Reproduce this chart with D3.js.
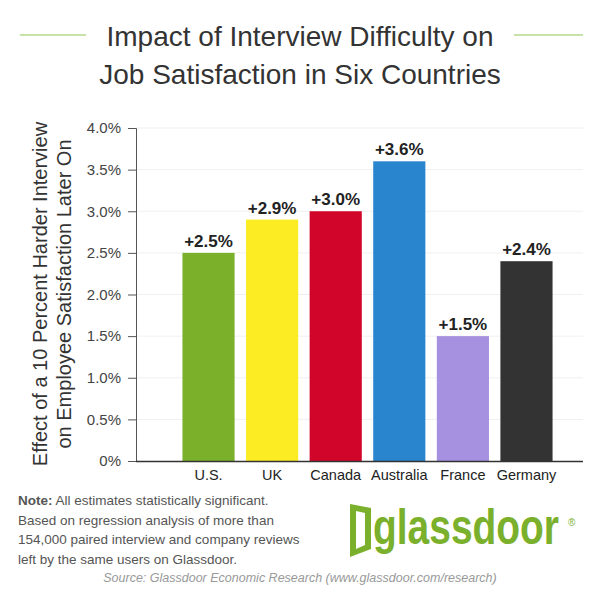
<!DOCTYPE html><html><head><meta charset="utf-8"><script src="https://cdn.jsdelivr.net/npm/d3@7"></script>
<style>body{margin:0;background:#fff}</style></head><body><svg id="c" width="600" height="598"></svg>
<script>
const countries=["U.S.","UK","Canada","Australia","France","Germany"];
const values=[2.5,2.9,3.0,3.6,1.5,2.4];
const colors=["#7bb02a","#fbec24","#d1042a","#2a85cf","#a690e0","#333333"];
const ticks=[0,0.5,1,1.5,2,2.5,3,3.5,4];
const svg=d3.select("#c");
const F="Helvetica, 'Liberation Sans', Arial, sans-serif";
svg.append("line").attr("x1",20).attr("x2",86).attr("y1",35).attr("y2",35).attr("stroke","#b5d98a").attr("stroke-width",1.5);
svg.append("line").attr("x1",514).attr("x2",583).attr("y1",35).attr("y2",35).attr("stroke","#b5d98a").attr("stroke-width",1.5);
const tt=svg.append("text").attr("text-anchor","middle").attr("font-family",F).attr("font-size",28).attr("font-weight",300).attr("fill","#333");
tt.append("tspan").attr("x",300).attr("y",46).text("Impact of Interview Difficulty on");
tt.append("tspan").attr("x",300).attr("y",84).text("Job Satisfaction in Six Countries");
const y=d3.scaleLinear().domain([0,4]).range([461,128]);
const x=d3.scaleBand().domain(countries).range([171,564]).padding(0.18);
const g=svg.append("g");
g.selectAll(".gl").data(ticks.slice(1)).join("line").attr("x1",136).attr("x2",583).attr("y1",d=>y(d)).attr("y2",d=>y(d)).attr("stroke","#f0f0f0");
const ya=svg.append("g").attr("transform","translate(136,0)").call(d3.axisLeft(y).tickValues(ticks).tickSize(8).tickFormat(d=>d===0?"0%":d.toFixed(1)+"%"));
ya.select(".domain").attr("stroke","#555");
ya.selectAll("line").attr("stroke","#555");
ya.selectAll("text").attr("font-family",F).attr("font-size",15).attr("fill","#444").attr("dx",-4);
svg.selectAll(".bar").data(values).join("rect").attr("x",(d,i)=>x(countries[i])).attr("width",x.bandwidth()).attr("y",d=>y(d)).attr("height",d=>y(0)-y(d)).attr("fill",(d,i)=>colors[i]);
svg.append("line").attr("x1",136).attr("x2",583).attr("y1",461.5).attr("y2",461.5).attr("stroke","#333").attr("stroke-width",1.5);
svg.selectAll(".vl").data(values).join("text").attr("x",(d,i)=>x(countries[i])+x.bandwidth()/2).attr("y",d=>y(d)-6).attr("text-anchor","middle").attr("font-family",F).attr("font-weight","bold").attr("font-size",17).attr("fill","#222").text(d=>"+"+d.toFixed(1)+"%");
svg.selectAll(".cl").data(countries).join("text").attr("x",d=>x(d)+x.bandwidth()/2).attr("y",480).attr("text-anchor","middle").attr("font-family",F).attr("font-size",14.5).attr("fill","#222").text(d=>d);
const yt=svg.append("text").attr("transform","translate(0,294) rotate(-90)").attr("text-anchor","middle").attr("font-family",F).attr("font-size",20).attr("fill","#333");
yt.append("tspan").attr("x",0).attr("y",47).text("Effect of a 10 Percent Harder Interview");
yt.append("tspan").attr("x",0).attr("y",71).text("on Employee Satisfaction Later On");
const note=["<tspan font-weight='bold'>Note:</tspan> All estimates statistically significant.","Based on regression analysis of more than","154,000 paired interview and company reviews","left by the same users on Glassdoor."];
svg.selectAll(".nt").data(note).join("text").attr("x",18).attr("y",(d,i)=>505+i*19.5).attr("font-family",F).attr("font-size",13.5).attr("fill","#555").html(d=>d);
const lg=svg.append("g").attr("fill","#7ab02c");
lg.append("path").attr("d","M350,504 L371,508 L371,549 L350,557 Z M356,511 L356,549 L365,545 L365,513 Z").attr("fill-rule","evenodd");
lg.append("text").attr("x",373).attr("y",544).attr("font-family",F).attr("font-weight","bold").attr("font-size",50).attr("textLength",186).attr("lengthAdjust","spacingAndGlyphs").text("glassdoor");
lg.append("text").attr("x",568).attr("y",526).attr("font-family",F).attr("font-size",10).text("®");
svg.append("text").attr("x",300).attr("y",582).attr("text-anchor","middle").attr("font-family",F).attr("font-style","italic").attr("font-size",12.5).attr("fill","#999").text("Source: Glassdoor Economic Research (www.glassdoor.com/research)");
</script></body></html>
